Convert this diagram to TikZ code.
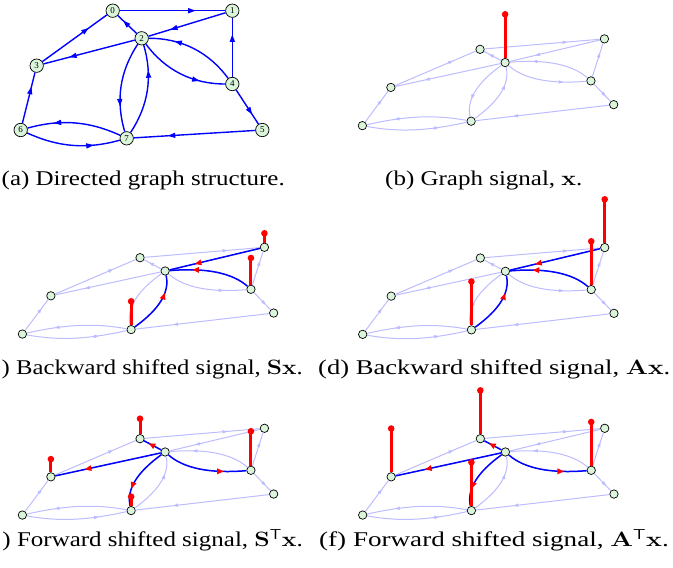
\documentclass[tikz,border=0pt]{standalone}
\usepackage[no-math]{fontspec}
\setmainfont{Liberation Serif}
\usetikzlibrary{arrows.meta,decorations.markings}
\definecolor{gblue}{RGB}{0,0,255}
\definecolor{fblue}{RGB}{188,188,255}
\definecolor{nodegreen}{RGB}{218,245,218}
\tikzset{
  vtx/.style={circle, draw=black, fill=nodegreen, line width=0.7pt, inner sep=0pt, minimum size=13.4pt, font=\fontsize{9}{9}\selectfont},
  svtx/.style={circle, draw=black, fill=nodegreen, line width=0.7pt, inner sep=0pt, minimum size=8.4pt},
  midarrow/.style={postaction={decorate}, decoration={markings, mark=at position 0.72 with {\arrow{#1}}}},
  edgeA/.style={draw=gblue, line width=1.4pt, midarrow={Triangle[length=7.5pt,width=5pt]}},
  edgeF/.style={draw=fblue, line width=1pt, midarrow={Triangle[length=5pt,width=3.2pt]}},
  edgeH/.style={draw=gblue, line width=1.5pt, midarrow={Triangle[length=6.5pt,width=5.5pt,color=red]}},
  stem/.style={draw=red, line width=3pt},
  stemdot/.style={fill=red},
  captext/.style={inner sep=0pt, font=\fontsize{21}{25}\selectfont},
}
% nodes of one copy of the graph
\newcommand\smallnodes[1]{%
  \node[svtx] (#10) at (112.7,10.7) {};
  \node[svtx] (#11) at (232.3,10.7) {};
  \node[svtx] (#12) at (141.7,38.3) {};
  \node[svtx] (#13) at (36.7,65.7) {};
  \node[svtx] (#14) at (232.3,84) {};
  \node[svtx] (#15) at (262.3,130) {};
  \node[svtx] (#16) at (20.7,130) {};
  \node[svtx] (#17) at (126.7,138.3) {};
}
% all edges of one copy of the graph
\newcommand\graphedges[2]{%
  \draw[#2] (#10) -- (#11);
  \draw[#2] (#11) -- (#12);
  \draw[#2] (#12) -- (#10);
  \draw[#2] (#13) -- (#10);
  \draw[#2] (#12) -- (#13);
  \draw[#2] (#14) -- (#11);
  \draw[#2] (#14) -- (#15);
  \draw[#2] (#15) -- (#17);
  \draw[#2] (#16) -- (#13);
  \draw[#2] (#12) .. controls (165.2,70.3) and (192.6,84) .. (#14);
  \draw[#2] (#14) .. controls (208.8,52.0) and (181.4,38.2) .. (#12);
  \draw[#2] (#12) .. controls (119.8,71.3) and (115.5,100.3) .. (#17);
  \draw[#2] (#17) .. controls (148.6,105.3) and (152.9,76.3) .. (#12);
  \draw[#2] (#17) .. controls (88.8,121.0) and (60.8,118.9) .. (#16);
  \draw[#2] (#16) .. controls (58.6,147.3) and (86.6,149.4) .. (#17);
}
% signal stem: node name, height
\newcommand\sigstem[2]{%
  \draw[stem] (#1.north) -- ([yshift=#2pt]#1.center);
  \fill[stemdot] ([yshift=#2pt]#1.center) circle[radius=3.3pt];
}
\begin{document}
\begin{tikzpicture}[x=1pt,y=-1pt]
\useasboundingbox (0,0) rectangle (673,568);

% ---------- (a) ----------
\node[vtx] (a0) at (112.7,10.7) {0};
\node[vtx] (a1) at (232.3,10.7) {1};
\node[vtx] (a2) at (141.7,38.3) {2};
\node[vtx] (a3) at (36.7,65.7) {3};
\node[vtx] (a4) at (232.3,84) {4};
\node[vtx] (a5) at (262.3,130) {5};
\node[vtx] (a6) at (20.7,130) {6};
\node[vtx] (a7) at (126.7,138.3) {7};
\graphedges{a}{edgeA}

% ---------- (b) ----------
\begin{scope}[cm={1.04,0.087,0.184,0.573,(364.8pt,-52.97pt)}]
  \smallnodes{b}
  \graphedges{b}{edgeF}
\end{scope}
\sigstem{b2}{48.3}

% ---------- (c) ----------
\begin{scope}[cm={1.04,0.087,0.184,0.573,(24.8pt,-261.37pt)}]
  \smallnodes{c}
  \graphedges{c}{edgeF}
  \draw[edgeH] (c1) -- (c2);
  \draw[edgeH] (c4) .. controls (208.8,52.0) and (181.4,38.2) .. (c2);
  \draw[edgeH] (c7) .. controls (148.6,105.3) and (152.9,76.3) .. (c2);
\end{scope}
\sigstem{c1}{14}
\sigstem{c4}{31.3}
\sigstem{c7}{28.3}

% ---------- (d) ----------
\begin{scope}[cm={1.04,0.087,0.184,0.573,(365.1pt,-261.67pt)}]
  \smallnodes{d}
  \graphedges{d}{edgeF}
  \draw[edgeH] (d1) -- (d2);
  \draw[edgeH] (d4) .. controls (208.8,52.0) and (181.4,38.2) .. (d2);
  \draw[edgeH] (d7) .. controls (148.6,105.3) and (152.9,76.3) .. (d2);
\end{scope}
\sigstem{d1}{48.3}
\sigstem{d4}{48.3}
\sigstem{d7}{48.3}

% ---------- (e) ----------
\begin{scope}[cm={1.04,0.087,0.184,0.573,(24.8pt,-442.37pt)}]
  \smallnodes{e}
  \graphedges{e}{edgeF}
  \draw[edgeH] (e2) -- (e0);
  \draw[edgeH] (e2) -- (e3);
  \draw[edgeH] (e2) .. controls (165.2,70.3) and (192.6,84) .. (e4);
  \draw[edgeH] (e2) .. controls (119.8,71.3) and (115.5,100.3) .. (e7);
\end{scope}
\sigstem{e0}{20}
\sigstem{e3}{17.7}
\sigstem{e4}{39}
\sigstem{e7}{14}

% ---------- (f) ----------
\begin{scope}[cm={1.04,0.087,0.184,0.573,(365.1pt,-442.37pt)}]
  \smallnodes{f}
  \graphedges{f}{edgeF}
  \draw[edgeH] (f2) -- (f0);
  \draw[edgeH] (f2) -- (f3);
  \draw[edgeH] (f2) .. controls (165.2,70.3) and (192.6,84) .. (f4);
  \draw[edgeH] (f2) .. controls (119.8,71.3) and (115.5,100.3) .. (f7);
\end{scope}
\sigstem{f0}{48.3}
\sigstem{f3}{48.3}
\sigstem{f4}{48.3}
\sigstem{f7}{48.3}

% ---------- captions ----------
\node[captext, anchor=base west] (capa) at (1.5,185.3) {\scalebox{1.19}[1]{(a) Directed graph structure.}};
\node[captext, anchor=base west] (capb) at (385,185.3) {\scalebox{1.19}[1]{(b) Graph signal, $\mathbf{x}$.}};
\node[captext, anchor=base east] (capc) at (303,374) {\scalebox{1.175}[1]{) Backward shifted signal, $\mathbf{Sx}$.}};
\node[captext, anchor=base west] (capd) at (318,374) {\scalebox{1.265}[1]{(d) Backward shifted signal, $\mathbf{Ax}$.}};
\node[captext, anchor=base east] (cape) at (303,546.7) {\scalebox{1.19}[1]{) Forward shifted signal, $\mathbf{S}^{\mathsf{T}}\mathbf{x}$.}};
\node[captext, anchor=base west] (capf) at (319,546.7) {\scalebox{1.29}[1]{(f) Forward shifted signal, $\mathbf{A}^{\mathsf{T}}\mathbf{x}$.}};
\end{tikzpicture}
\end{document}
